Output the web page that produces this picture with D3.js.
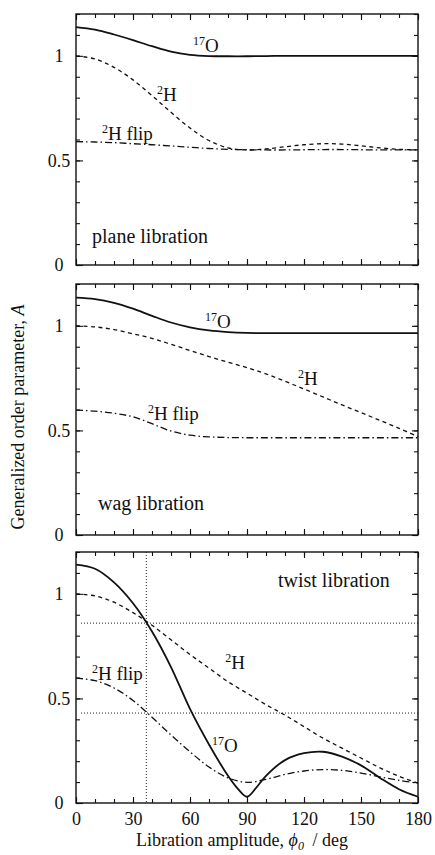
<!DOCTYPE html>
<html>
<head>
<meta charset="utf-8">
<script src="https://cdn.jsdelivr.net/npm/d3@7"></script>
<style>
  body { margin: 0; background: #fff; }
  text { font-family: "Liberation Serif", "Times New Roman", serif; fill: #111; }
</style>
</head>
<body>
<svg id="chart" width="435" height="855"></svg>
<script>
// libration amplitude (deg)
const angles = [0, 10, 20, 30, 40, 50, 60, 70, 80, 90, 100, 110, 120, 130, 140, 150, 160, 170, 180];

// plane libration
const planeO17 = [1.137, 1.125, 1.102, 1.075, 1.046, 1.02, 1.005, 0.999, 0.998, 0.998, 0.999, 1.0, 1.0, 1.0, 1.0, 1.0, 1.0, 1.0, 1.0];
const planeH2 = [1.0, 0.985, 0.945, 0.885, 0.81, 0.73, 0.655, 0.595, 0.56, 0.55, 0.555, 0.565, 0.575, 0.58, 0.578, 0.57, 0.56, 0.553, 0.55];
const planeFlip = [0.59, 0.588, 0.585, 0.58, 0.575, 0.569, 0.563, 0.557, 0.553, 0.551, 0.55, 0.55, 0.551, 0.552, 0.552, 0.551, 0.55, 0.55, 0.55];

// wag libration
const wagO17 = [1.135, 1.128, 1.11, 1.082, 1.048, 1.016, 0.993, 0.978, 0.97, 0.966, 0.965, 0.965, 0.965, 0.965, 0.965, 0.965, 0.965, 0.965, 0.965];
const wagH2 = [1.0, 0.995, 0.982, 0.962, 0.94, 0.912, 0.882, 0.853, 0.826, 0.8, 0.77, 0.735, 0.698, 0.66, 0.622, 0.585, 0.548, 0.51, 0.47];
const wagFlip = [0.597, 0.592, 0.582, 0.565, 0.532, 0.497, 0.477, 0.469, 0.466, 0.465, 0.465, 0.465, 0.465, 0.465, 0.465, 0.465, 0.465, 0.465, 0.465];

// twist libration (17O has a cusp at 90 deg)
const twistO17Angles = [0, 10, 20, 30, 40, 50, 60, 70, 80, 85, 90, 95, 100, 110, 120, 130, 140, 150, 160, 170, 180];
const twistO17 = [1.14, 1.12, 1.055, 0.955, 0.82, 0.65, 0.45, 0.28, 0.13, 0.07, 0.03, 0.075, 0.13, 0.205, 0.238, 0.245, 0.222, 0.18, 0.12, 0.066, 0.03];
const twistH2 = [1.0, 0.99, 0.96, 0.91, 0.85, 0.78, 0.71, 0.645, 0.58, 0.525, 0.47, 0.42, 0.365, 0.31, 0.262, 0.215, 0.168, 0.128, 0.095];
const twistFlip = [0.597, 0.585, 0.55, 0.49, 0.41, 0.325, 0.245, 0.172, 0.12, 0.099, 0.113, 0.137, 0.153, 0.16, 0.156, 0.143, 0.125, 0.108, 0.095];

// dotted guides in the twist panel
const guideAngles = [37];
const guideLevels = [0.86, 0.43];

const xTicks = [0, 30, 60, 90, 120, 150, 180];
const yTicks = [0, 0.5, 1];

const svg = d3.select('#chart');
const left = 76, right = 418, panelH = 251;

const x = d3.scaleLinear().domain([0, 180]).range([left, right]);

const styles = {
  solid: { width: 1.8, dash: null },
  dash: { width: 1.3, dash: '4,3.5' },
  dashdot: { width: 1.3, dash: '7,3,1.5,3' }
};

const panels = [
  {
    top: 14, name: 'plane libration', nameAt: [8.4, 0.105],
    series: [
      { xs: angles, ys: planeO17, style: 'solid', label: ['17', 'O'], at: [61.6, 1.02] },
      { xs: angles, ys: planeH2, style: 'dash', label: ['2', 'H'], at: [42.6, 0.785] },
      { xs: angles, ys: planeFlip, style: 'dashdot', label: ['2', 'H flip'], at: [13.7, 0.598] }
    ]
  },
  {
    top: 284, name: 'wag libration', nameAt: [11.6, 0.12],
    series: [
      { xs: angles, ys: wagO17, style: 'solid', label: ['17', 'O'], at: [67.9, 0.99] },
      { xs: angles, ys: wagH2, style: 'dash', label: ['2', 'H'], at: [116.8, 0.718] },
      { xs: angles, ys: wagFlip, style: 'dashdot', label: ['2', 'H flip'], at: [37.9, 0.55] }
    ]
  },
  {
    top: 552, name: 'twist libration', nameAt: [106.3, 1.033], guides: true, last: true,
    series: [
      { xs: twistO17Angles, ys: twistO17, style: 'solid', label: ['17', 'O'], at: [71.6, 0.244] },
      { xs: angles, ys: twistH2, style: 'dash', label: ['2', 'H'], at: [78.5, 0.64] },
      { xs: angles, ys: twistFlip, style: 'dashdot', label: ['2', 'H flip'], at: [8.4, 0.589] }
    ]
  }
];

function cleanAxis(sel) {
  sel.select('.domain').remove();
  sel.selectAll('line').attr('stroke', '#111').attr('stroke-width', 1.1);
}

panels.forEach(p => {
  const y = d3.scaleLinear().domain([0, 1.2]).range([p.top + panelH, p.top]);
  const g = svg.append('g');

  // guides (drawn first, under the curves)
  if (p.guides) {
    g.selectAll('.vguide').data(guideAngles).enter().append('line')
      .attr('x1', d => x(d)).attr('x2', d => x(d))
      .attr('y1', y(1.2)).attr('y2', y(0))
      .attr('stroke', '#222').attr('stroke-width', 1).attr('stroke-dasharray', '1,2');
    g.selectAll('.hguide').data(guideLevels).enter().append('line')
      .attr('x1', x(0) + 5).attr('x2', x(180))
      .attr('y1', d => y(d)).attr('y2', d => y(d))
      .attr('stroke', '#222').attr('stroke-width', 1).attr('stroke-dasharray', '1,2');
  }

  // axes: inward ticks on all four sides
  const minorX = d3.range(0, 181, 10);
  const minorY = d3.range(0, 1.201, 0.1);

  g.append('g').attr('transform', `translate(0,${y(0)})`)
    .call(d3.axisBottom(x).tickValues(minorX).tickSize(-4).tickFormat('')).call(cleanAxis);
  const bottom = g.append('g').attr('transform', `translate(0,${y(0)})`)
    .call(d3.axisBottom(x).tickValues(xTicks).tickSize(-6).tickFormat(p.last ? d3.format('d') : ''))
    .call(cleanAxis);
  bottom.selectAll('text').attr('y', 22).attr('dy', null).style('font-size', '18px');

  g.append('g').attr('transform', `translate(0,${y(1.2)})`)
    .call(d3.axisTop(x).tickValues(minorX).tickSize(-4).tickFormat('')).call(cleanAxis);
  g.append('g').attr('transform', `translate(0,${y(1.2)})`)
    .call(d3.axisTop(x).tickValues(xTicks).tickSize(-6).tickFormat('')).call(cleanAxis);

  g.append('g').attr('transform', `translate(${left},0)`)
    .call(d3.axisLeft(y).tickValues(minorY).tickSize(-4).tickFormat('')).call(cleanAxis);
  const leftAx = g.append('g').attr('transform', `translate(${left},0)`)
    .call(d3.axisLeft(y).tickValues(yTicks).tickSize(-7).tickFormat(d3.format('')))
    .call(cleanAxis);
  leftAx.selectAll('text').attr('x', -17).attr('text-anchor', 'middle').style('font-size', '18px');

  g.append('g').attr('transform', `translate(${right},0)`)
    .call(d3.axisRight(y).tickValues(minorY).tickSize(-4).tickFormat('')).call(cleanAxis);
  g.append('g').attr('transform', `translate(${right},0)`)
    .call(d3.axisRight(y).tickValues(yTicks).tickSize(-6).tickFormat('')).call(cleanAxis);

  g.selectAll('.tick text').attr('fill', '#111').style('font-family', '"Liberation Serif", serif');

  // frame
  g.append('rect')
    .attr('x', left).attr('y', p.top)
    .attr('width', right - left).attr('height', panelH)
    .attr('fill', 'none').attr('stroke', '#111').attr('stroke-width', 1.4);

  // curves
  p.series.forEach(s => {
    const st = styles[s.style];
    const line = d3.line()
      .x((d, i) => x(s.xs[i]))
      .y(d => y(d))
      .curve(d3.curveCatmullRom.alpha(0.5));
    g.append('path')
      .datum(s.ys)
      .attr('d', line)
      .attr('fill', 'none')
      .attr('stroke', '#111')
      .attr('stroke-width', st.width)
      .attr('stroke-dasharray', st.dash);

    const t = g.append('text')
      .attr('x', x(s.at[0])).attr('y', y(s.at[1]))
      .style('font-size', '19px');
    t.append('tspan').text(s.label[0]).style('font-size', '12px').attr('dy', '-7');
    t.append('tspan').text(s.label[1]).attr('dy', '7');
  });

  g.append('text')
    .attr('x', x(p.nameAt[0])).attr('y', y(p.nameAt[1]))
    .style('font-size', '20px')
    .text(p.name);
});

// axis titles
const yTitle = svg.append('text')
  .attr('transform', 'translate(24,417) rotate(-90)')
  .attr('text-anchor', 'middle')
  .style('font-size', '18px');
yTitle.append('tspan').text('Generalized order parameter, ');
yTitle.append('tspan').text('A').style('font-style', 'italic');

const xTitle = svg.append('text')
  .attr('x', 242).attr('y', 846)
  .attr('text-anchor', 'middle')
  .style('font-size', '18px');
xTitle.append('tspan').text('Libration amplitude, ');
xTitle.append('tspan').text('\u03D5').style('font-style', 'italic');
xTitle.append('tspan').text('0').style('font-style', 'italic').style('font-size', '12px').attr('dy', 4);
xTitle.append('tspan').text(' / deg').attr('dy', -4).attr('dx', 4);
</script>
</body>
</html>
